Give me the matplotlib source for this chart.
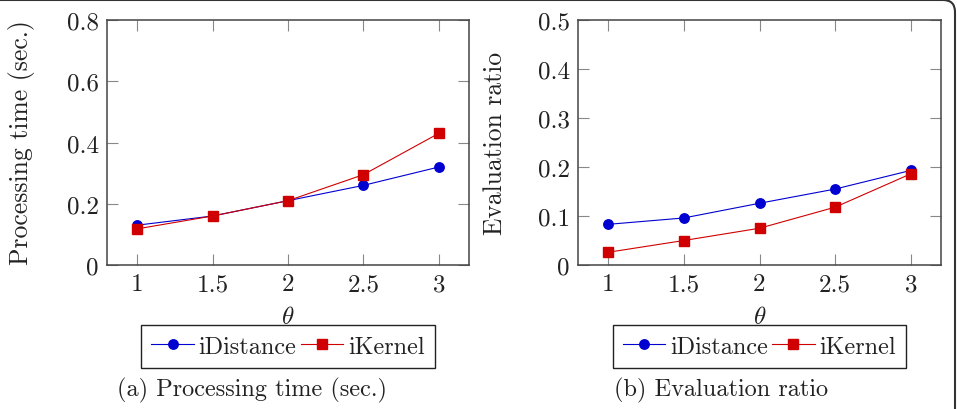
import matplotlib
matplotlib.use("Agg")
import matplotlib.pyplot as plt
from matplotlib.patches import FancyBboxPatch
from matplotlib.transforms import IdentityTransform

plt.rcParams["font.family"] = "cmr10"
plt.rcParams["mathtext.fontset"] = "cm"
plt.rcParams["axes.formatter.use_mathtext"] = True
plt.rcParams["axes.unicode_minus"] = False

# data
theta = [1, 1.5, 2, 2.5, 3]
time_idistance = [0.13, 0.16, 0.21, 0.26, 0.32]
time_ikernel = [0.118, 0.16, 0.21, 0.295, 0.43]
ratio_idistance = [0.083, 0.096, 0.126, 0.155, 0.193]
ratio_ikernel = [0.026, 0.05, 0.075, 0.118, 0.186]

xticks = [1, 1.5, 2, 2.5, 3]
xtick_labels = ["1", "1.5", "2", "2.5", "3"]
yticks_time = [0, 0.2, 0.4, 0.6, 0.8]
ytick_labels_time = ["0", "0.2", "0.4", "0.6", "0.8"]
yticks_ratio = [0, 0.1, 0.2, 0.3, 0.4, 0.5]
ytick_labels_ratio = ["0", "0.1", "0.2", "0.3", "0.4", "0.5"]

BLUE = "#0000d0"
RED = "#d00000"
W, H = 957, 410

fig = plt.figure(figsize=(W / 100, H / 100), dpi=100)

panels = [
    dict(left=107, right=469, y1=time_idistance, y2=time_ikernel, yt=yticks_time,
         ytl=ytick_labels_time, ylim=0.8, ylabel="Processing time (sec.)",
         ylab_x=22, caption="(a) Processing time (sec.)", cap_x=252),
    dict(left=578, right=941, y1=ratio_idistance, y2=ratio_ikernel, yt=yticks_ratio,
         ytl=ytick_labels_ratio, ylim=0.5, ylabel="Evaluation ratio",
         ylab_x=495, caption="(b) Evaluation ratio", cap_x=721),
]

top, bottom = 21, 266
for p in panels:
    ax = fig.add_axes([p["left"] / W, 1 - bottom / H, (p["right"] - p["left"]) / W, (bottom - top) / H])
    l1, = ax.plot(theta, p["y1"], color=BLUE, lw=0.8, marker="o", ms=6.8, label="iDistance")
    l2, = ax.plot(theta, p["y2"], color=RED, lw=0.8, marker="s", ms=7, label="iKernel")
    ax.set_xlim(0.8, 3.2)
    ax.set_ylim(0, p["ylim"])
    ax.set_xticks(xticks)
    ax.set_xticklabels(xtick_labels)
    ax.set_yticks(p["yt"])
    ax.set_yticklabels(p["ytl"])
    ax.tick_params(direction="in", length=8, width=0.8, color="#888888", labelsize=18,
                   top=True, right=True, pad=6, labelcolor="#222222")
    for s in ax.spines.values():
        s.set_color("#444444")
        s.set_linewidth(1.1)

    cx = (p["left"] + p["right"]) / 2
    fig.text(cx / W, 1 - 318 / H, r"$\theta$", fontsize=18, ha="center", va="center", color="#222222")
    fig.text(p["ylab_x"] / W, 1 - 143 / H, p["ylabel"], rotation=90, fontsize=18.5,
             ha="center", va="center", color="#222222")
    fig.text(p["cap_x"] / W, 1 - 390 / H, p["caption"], fontsize=17.5, ha="center",
             va="center", color="#222222")

    leg = fig.legend(handles=[l1, l2], loc="center", bbox_to_anchor=(cx / W, 1 - 347.5 / H),
                     ncol=2, fontsize=17.5, frameon=True, fancybox=False, framealpha=1,
                     edgecolor="#222222", borderpad=0.42, handlelength=1.75, handletextpad=0.2,
                     columnspacing=0.17, borderaxespad=0)
    leg.get_frame().set_linewidth(1.0)
    for t in leg.get_texts():
        t.set_color("#222222")

# outer rounded frame (only top and right edges visible)
frame = FancyBboxPatch((-30, -30), W - 2 + 30, H - 1 + 30,
                       boxstyle="round,pad=0,rounding_size=12", transform=IdentityTransform(),
                       fill=False, edgecolor="#333333", lw=1.5)
fig.patches.append(frame)

fig.savefig("out.png", dpi=100)
